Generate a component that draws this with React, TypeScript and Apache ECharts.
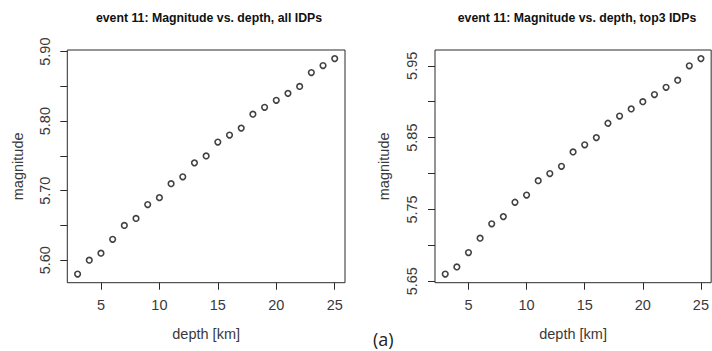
import React, { useEffect, useRef } from "react";
import * as echarts from "echarts";

const depths = [3, 4, 5, 6, 7, 8, 9, 10, 11, 12, 13, 14, 15, 16, 17, 18, 19, 20, 21, 22, 23, 24, 25];
const magAll = [5.58, 5.60, 5.61, 5.63, 5.65, 5.66, 5.68, 5.69, 5.71, 5.72, 5.74, 5.75, 5.77, 5.78, 5.79, 5.81, 5.82, 5.83, 5.84, 5.85, 5.87, 5.88, 5.89];
const magTop3 = [5.66, 5.67, 5.69, 5.71, 5.73, 5.74, 5.76, 5.77, 5.79, 5.80, 5.81, 5.83, 5.84, 5.85, 5.87, 5.88, 5.89, 5.90, 5.91, 5.92, 5.93, 5.95, 5.96];

const xTicks = [5, 10, 15, 20, 25];
const leftYTicks = [5.60, 5.65, 5.70, 5.75, 5.80, 5.85, 5.90];
const leftYLabels = [5.60, 5.70, 5.80, 5.90];
const rightYTicks = [5.65, 5.70, 5.75, 5.80, 5.85, 5.90, 5.95];
const rightYLabels = [5.65, 5.75, 5.85, 5.95];

const titleLeft = "event 11: Magnitude vs. depth, all IDPs";
const titleRight = "event 11: Magnitude vs. depth, top3 IDPs";
const xName = "depth [km]";
const yName = "magnitude";
const panelLabel = "(a)";

const FONT = "Liberation Sans, Arial, Helvetica, sans-serif";
const LINE = "#2a2a2a";
const TXT = "#3a3a3a";

function xAxisOf(gridIndex: number) {
  return {
    type: "value",
    gridIndex,
    min: 2.12,
    max: 25.88,
    name: xName,
    nameLocation: "middle",
    nameGap: 43.5,
    nameTextStyle: { fontFamily: FONT, fontSize: 14.5, color: TXT },
    axisLine: { show: false },
    splitLine: { show: false },
    axisTick: { show: true, inside: false, length: 7, customValues: xTicks, lineStyle: { color: LINE, width: 1 } },
    axisLabel: { show: true, customValues: xTicks, margin: 15, fontFamily: FONT, fontSize: 14.5, color: TXT, showMinLabel: true, showMaxLabel: true },
  };
}

function yAxisOf(gridIndex: number, min: number, max: number, ticks: number[], labels: number[], margin: number, nameGap: number) {
  return {
    type: "value",
    gridIndex,
    min,
    max,
    name: yName,
    nameLocation: "middle",
    nameRotate: 90,
    nameGap,
    nameTextStyle: { fontFamily: FONT, fontSize: 14.5, color: TXT },
    axisLine: { show: false },
    splitLine: { show: false },
    axisTick: { show: true, inside: false, length: 7, customValues: ticks, lineStyle: { color: LINE, width: 1 } },
    axisLabel: {
      show: true,
      customValues: labels,
      rotate: 90,
      margin,
      fontFamily: FONT,
      fontSize: 14.5,
      color: TXT,
      formatter: (v: number) => v.toFixed(2),
    },
  };
}

export default function App() {
  const ref = useRef<HTMLDivElement>(null);
  useEffect(() => {
    if (!ref.current) return;
    const chart = echarts.init(ref.current, null, { renderer: "svg" });
    const pointStyle = { color: "#ffffff", borderColor: "#111111", borderWidth: 1.6 };
    chart.setOption({
      animation: false,
      backgroundColor: "#ffffff",
      title: [
        { text: titleLeft, left: 204, top: 7, textAlign: "center", textStyle: { fontFamily: FONT, fontSize: 12.3, fontWeight: "bold", color: "#111" } },
        { text: titleRight, left: 572, top: 7, textAlign: "center", textStyle: { fontFamily: FONT, fontSize: 12.3, fontWeight: "bold", color: "#111" } },
      ],
      grid: [
        { left: 67.3, top: 50, width: 277.7, height: 232.7, show: true, borderColor: LINE, borderWidth: 1, backgroundColor: "transparent" },
        { left: 435, top: 50, width: 278, height: 232.7, show: true, borderColor: LINE, borderWidth: 1, backgroundColor: "transparent" },
      ],
      xAxis: [xAxisOf(0), xAxisOf(1)],
      yAxis: [
        yAxisOf(0, 5.5676, 5.9024, leftYTicks, leftYLabels, 15, 41.5),
        yAxisOf(1, 5.648, 5.972, rightYTicks, rightYLabels, 16, 43.5),
      ],
      series: [
        {
          type: "scatter",
          xAxisIndex: 0,
          yAxisIndex: 0,
          symbol: "circle",
          symbolSize: 5.6,
          itemStyle: pointStyle,
          data: depths.map((d, i) => [d, magAll[i]]),
        },
        {
          type: "scatter",
          xAxisIndex: 1,
          yAxisIndex: 1,
          symbol: "circle",
          symbolSize: 5.6,
          itemStyle: pointStyle,
          data: depths.map((d, i) => [d, magTop3[i]]),
        },
      ],
      graphic: [
        {
          type: "text",
          left: 373,
          top: 330,
          style: { text: panelLabel, fontFamily: "Open Sans, Liberation Sans, sans-serif", fontSize: 18, fill: "#222" },
        },
      ],
    });
    return () => chart.dispose();
  }, []);
  return <div ref={ref} style={{ position: "absolute", left: 0, top: 0, width: 712, height: 351 }} />;
}
